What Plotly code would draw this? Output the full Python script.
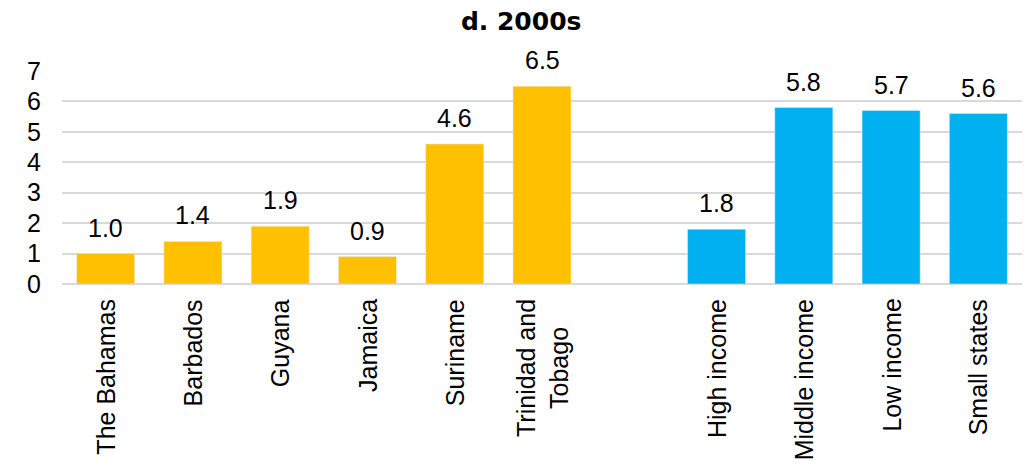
import plotly.graph_objects as go

countries = ["The Bahamas", "Barbados", "Guyana", "Jamaica", "Suriname", "Trinidad and<br>Tobago"]
country_vals = [1.0, 1.4, 1.9, 0.9, 4.6, 6.5]
groups = ["High income", "Middle income", "Low income", "Small states"]
group_vals = [1.8, 5.8, 5.7, 5.6]
spacer = " "
y_ticks = [0, 1, 2, 3, 4, 5, 6, 7]
title_text = "d. 2000s"

cat_order = countries + [spacer] + groups
FONT = "Liberation Sans, Arial, sans-serif"

fig = go.Figure()
fig.add_trace(go.Bar(x=countries, y=country_vals, marker_color="#FFC000", cliponaxis=False))
fig.add_trace(go.Bar(x=groups, y=group_vals, marker_color="#00B0F0", cliponaxis=False))

for c, v in list(zip(countries, country_vals)) + list(zip(groups, group_vals)):
    fig.add_annotation(x=c, y=v, xref="x", yref="y", yshift=10,
                       text=f"{v:.1f}", showarrow=False, xanchor="center",
                       yanchor="bottom", font=dict(size=25, color="#000000", family=FONT))

for c in countries + groups:
    fig.add_annotation(x=c, y=0, xref="x", yref="paper", yshift=-13,
                       text=c, textangle=-90, showarrow=False, xanchor="center",
                       yanchor="top", align="center",
                       font=dict(size=25, color="#000000", family=FONT))

fig.update_layout(
    width=1032, height=466,
    margin=dict(l=62, r=10, t=71, b=182),
    paper_bgcolor="white", plot_bgcolor="white",
    barmode="overlay", bargap=0.335, showlegend=False,
    title=dict(text=f"<b>{title_text}</b>", x=0.505, xanchor="center",
               y=1 - 21 / 466, yanchor="middle", yref="container",
               font=dict(size=25, color="#000000", family="DejaVu Sans, sans-serif")),
    xaxis=dict(type="category", categoryorder="array", categoryarray=cat_order,
               range=[-0.5, len(cat_order) - 0.5], showticklabels=False,
               showgrid=False, zeroline=False, showline=False, ticks=""),
    yaxis=dict(range=[0, 7], tickvals=y_ticks, showgrid=True, gridcolor="#D9D9D9",
               gridwidth=1.5, zeroline=True, zerolinecolor="#D9D9D9", zerolinewidth=1.5,
               showline=False, ticks="", ticklabelstandoff=20,
               tickfont=dict(size=25, color="#000000", family=FONT)),
)

fig.write_html("out.html")
